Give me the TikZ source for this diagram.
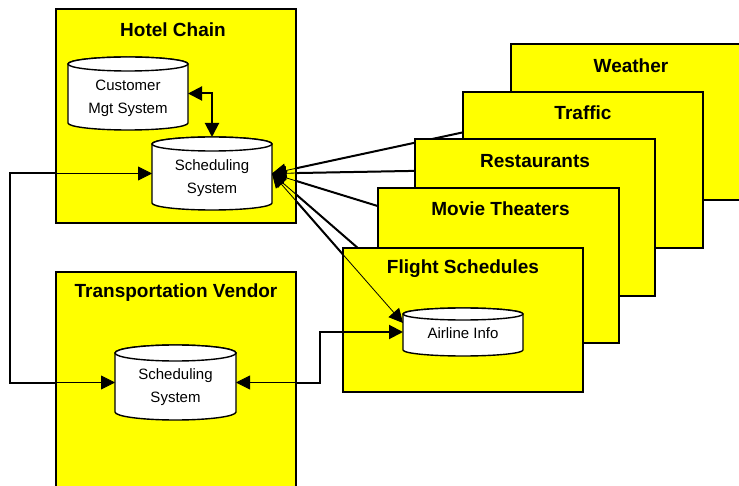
\documentclass[tikz,border=0pt]{standalone}
\usepackage{fontspec}
\setmainfont{Liberation Sans}
\usetikzlibrary{arrows.meta}

\definecolor{panelyellow}{RGB}{255,255,0}
\newcommand\paneltitlefont{\fontsize{19}{22}\selectfont\bfseries}
\newcommand\dbfont{\fontsize{15}{23}\selectfont}

\pgfdeclarelayer{thickwires}
\pgfdeclarelayer{leftpanels}
\pgfdeclarelayer{thinwires}
\pgfdeclarelayer{rightpanels}
\pgfdeclarelayer{overwires}
\pgfsetlayers{thickwires,leftpanels,thinwires,rightpanels,overwires,main}

\tikzset{
  panel/.style={draw=black, line width=2.4pt, fill=panelyellow,
    inner sep=0pt, outer sep=0pt, minimum width=240pt},
  paneltitle/.style={font=\paneltitlefont, inner sep=0pt},
  cylbody/.style={draw=black, line width=1.4pt, fill=white},
  dbtext/.style={font=\dbfont, align=center, inner sep=0pt},
  wire/.style={draw=black, line width=2pt},
  thinwire/.style={draw=black, line width=0.8pt},
}

% database cylinder: name, left x, top y, width, height, end radius
\newcommand\dbcyl[6]{%
  \path[cylbody] (#2,#3-#6) -- (#2,#3-#5+#6)
    arc[start angle=180, end angle=360, x radius=#4/2, y radius=#6]
    -- (#2+#4,#3-#6)
    arc[start angle=0, end angle=180, x radius=#4/2, y radius=#6] -- cycle;
  \draw[cylbody] (#2+#4/2,#3-#6) ellipse[x radius=#4/2, y radius=#6];
  \node[inner sep=0pt, outer sep=0pt, minimum width=#4pt, minimum height=#5pt]
    (#1) at (#2+#4/2,#3-#5/2) {};
}

\begin{document}
\begin{tikzpicture}[x=1pt, y=1pt, >={Triangle[length=14pt,width=14pt]}]
\useasboundingbox (0,0) rectangle (739,485);
\coordinate (lp) at (10,0);
\coordinate (bend) at (320,0);

% hotel chain and transportation vendor
\begin{pgfonlayer}{leftpanels}
  \node[panel, minimum height=214pt] (hotel) at (176,369) {};
  \node[paneltitle, xshift=-3pt] (hotel-title) at ([yshift=-21pt]hotel.north) {Hotel Chain};
  \node[panel, minimum height=220pt] (transport) at (176,103) {};
  \node[paneltitle] (transport-title) at ([yshift=-21pt]transport.north) {Transportation Vendor};
  \dbcyl{cust}{68}{428}{120}{73}{7}
  \node[dbtext] (cust-text) at ([yshift=-4.5pt]cust.center) {Customer\\Mgt System};
  \dbcyl{hs}{152}{348}{120}{73}{7}
  \node[dbtext] (hs-text) at ([yshift=-4.5pt]hs.center) {Scheduling\\System};
  \dbcyl{ts}{115}{140}{121}{75}{8}
  \node[dbtext] (ts-text) at ([yshift=-4.5pt]ts.center) {Scheduling\\System};
  \draw[wire, <->] (cust.east) -| (hs.north);
\end{pgfonlayer}

% stacked information sources
\begin{pgfonlayer}{rightpanels}
  \node[panel, minimum height=156pt] (weather) at (631,363) {};
  \node[paneltitle] (weather-title) at ([yshift=-22pt]weather.north) {Weather};
  \node[panel, minimum height=156pt] (traffic) at (583,315) {};
  \node[paneltitle] (traffic-title) at ([yshift=-21pt]traffic.north) {Traffic};
  \node[panel, minimum height=157pt] (restaurants) at (535,267.5) {};
  \node[paneltitle] (restaurants-title) at ([yshift=-22pt]restaurants.north) {Restaurants};
  \node[panel, minimum height=155pt, minimum width=241pt] (movie) at (498.5,219.5) {};
  \node[paneltitle, xshift=2pt] (movie-title) at ([yshift=-21pt]movie.north) {Movie Theaters};
  \node[panel, minimum height=144pt] (flight) at (463,165) {};
  \node[paneltitle] (flight-title) at ([yshift=-21pt]flight.north) {Flight Schedules};
\end{pgfonlayer}

\dbcyl{airline}{403}{177}{120}{48}{6}
\node[dbtext] (airline-text) at ([yshift=-1pt]airline.center) {Airline Info};

% connectors: heavy strokes outside the panels
\begin{pgfonlayer}{thickwires}
  \draw[wire] (hs.west) -- (hs.west -| lp) -- (ts.west -| lp) -- (ts.west);
  \foreach \src in {weather,traffic,restaurants,movie}
    {\draw[wire] (\src.west) -- (hs.east);}
  \draw[wire] ([yshift=9pt]airline.west) -- (hs.east);
\end{pgfonlayer}

% connectors: fine strokes and arrowheads inside the panels
\begin{pgfonlayer}{thinwires}
  \draw[thinwire, <->] (hs.west) -- (hs.west -| lp) -- (ts.west -| lp) -- (ts.west);
  \foreach \src in {weather,traffic,restaurants,movie}
    {\draw[thinwire, ->] (\src.west) -- (hs.east);}
  \draw[thinwire, <->] (ts.east) -- (ts.east -| bend) |- (airline.west);
\end{pgfonlayer}

\begin{pgfonlayer}{overwires}
  \begin{scope}
    \clip (296,0) rectangle (739,485);
    \draw[wire, ->] (ts.east) -- (ts.east -| bend) |- (airline.west);
  \end{scope}
  \draw[thinwire, <->] ([yshift=9pt]airline.west) -- (hs.east);
\end{pgfonlayer}
\end{tikzpicture}
\end{document}
